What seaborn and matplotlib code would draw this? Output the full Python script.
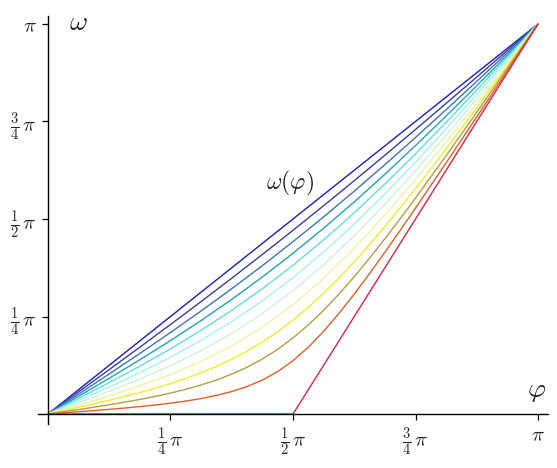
import numpy as np
import pandas as pd
import matplotlib
matplotlib.use("Agg")
import matplotlib.pyplot as plt
import seaborn as sns

# phi and omega values in units of pi
phi = [0, .0625, .125, .1875, .25, .3125, .375, .4375, .5,
       .5625, .625, .6875, .75, .8125, .875, .9375, 1]
# the strongly bent curves were read at more places
phi_fine = [0, .0625, .125, .15625, .1875, .21875, .25, .28125, .3125,
            .34375, .375, .40625, .4375, .46875, .5, .53125, .5625,
            .59375, .625, .65625, .6875, .71875, .75, .8125, .875, .9375, 1]

w00 = [0, .0625, .125, .1875, .25, .3125, .375, .4375, .5,
       .5625, .625, .6875, .75, .8125, .875, .9375, 1]
w01 = [0, .0569, .1139, .1714, .2295, .2884, .3482, .4091, .4710,
       .5341, .5982, .6634, .7295, .7964, .8639, .9319, 1]
w02 = [0, .0512, .1028, .1553, .2090, .2642, .3213, .3804, .4418,
       .5054, .5713, .6392, .7090, .7803, .8528, .9262, 1]
w03 = [0, .0456, .0917, .1391, .1882, .2397, .2939, .3513, .4121,
       .4763, .5439, .6147, .6882, .7641, .8417, .9206, 1]
w04 = [0, .0399, .0806, .1227, .1672, .2147, .2659, .3214, .3815,
       .4464, .5159, .5897, .6672, .7477, .8306, .9149, 1]
w05 = [0, .0342, .0694, .1062, .1458, .1891, .2371, .2904, .3498,
       .4154, .4871, .5641, .6458, .7312, .8194, .9092, 1]
w06 = [0, .0286, .0581, .0895, .1240, .1627, .2069, .2578, .3163,
       .3828, .4569, .5377, .6240, .7145, .8081, .9036, 1]
w07 = [0, .0229, .0467, .0725, .1014, .1350, .1749, .2230, .2804,
       .3480, .4249, .5100, .6014, .6975, .7967, .8979, 1]
w08 = [0, .0172, .0352, .0449, .0551, .0661, .0781, .0912, .1058,
       .1221, .1404, .1612, .1847, .2112, .2408, .2737, .3097, .3487,
       .3904, .4346, .4808, .5287, .5781, .6801, .7852, .8922, 1]
w09 = [0, .0115, .0236, .0302, .0373, .0450, .0536, .0633, .0744,
       .0872, .1022, .1200, .1410, .1659, .1950, .2284, .2660, .3075,
       .3522, .3997, .4494, .5008, .5536, .6623, .7736, .8865, 1]
w10 = [0, .0057, .0119, .0153, .0190, .0231, .0278, .0332, .0397,
       .0477, .0576, .0704, .0871, .1088, .1368, .1713, .2121, .2579,
       .3076, .3602, .4147, .4707, .5278, .6440, .7619, .8807, 1]
w11 = [0, 0, 0, 0, 0, 0, 0, 0, 0,
       .125, .25, .375, .5, .625, .75, .875, 1]

curves = [w00, w01, w02, w03, w04, w05, w06, w07, w08, w09, w10, w11]
colors = ['#1a1acc', '#3b3b9c', '#3f72b8', '#1fa3b8', '#5fdede', '#a8f0f0',
          '#cdf2d8', '#eef2a8', '#f0ec28', '#b0a040', '#e06028', '#e0204a']

tick_vals = [.25, .5, .75, 1]
tick_labels = [r'$\frac{1}{4}\,\pi$', r'$\frac{1}{2}\,\pi$', r'$\frac{3}{4}\,\pi$', r'$\pi$']

rows = []
for k, w in enumerate(curves):
    xs = phi_fine if len(w) == len(phi_fine) else phi
    for p, o in zip(xs, w):
        rows.append({'phi': p, 'omega': o, 'curve': k})
df = pd.DataFrame(rows)

sns.set_style('white')
plt.rcParams['mathtext.fontset'] = 'cm'
plt.rcParams['font.family'] = ['DejaVu Sans']

fig = plt.figure(figsize=(5.57, 4.68), dpi=100)
ax = fig.add_axes([38 / 557, 44 / 468, 510 / 557, 408 / 468])

sns.lineplot(data=df, x='phi', y='omega', hue='curve', palette=colors,
             legend=False, errorbar=None, linewidth=1.0, ax=ax)

ax.set_xlim(-0.0204, 1.0204)
ax.set_ylim(-0.0256, 1.0204)
ax.spines['left'].set_position(('data', 0))
ax.spines['bottom'].set_position(('data', 0))
ax.spines['top'].set_visible(False)
ax.spines['right'].set_visible(False)
for s in ['left', 'bottom']:
    ax.spines[s].set_color('black')
    ax.spines[s].set_linewidth(1.0)

ax.set_xticks(tick_vals)
ax.set_xticklabels(tick_labels)
ax.set_yticks(tick_vals)
ax.set_yticklabels(tick_labels)
ax.tick_params(direction='out', length=4, width=0.9, color='black',
               labelsize=15, pad=4, bottom=True, left=True)
ax.set_xlabel('')
ax.set_ylabel('')

ax.text(0.061, 1.005, r'$\omega$', fontsize=20, ha='center', va='center')
ax.text(0.998, 0.0615, r'$\varphi$', fontsize=20, ha='center', va='center')
ax.text(0.494, 0.592, r'$\omega(\varphi)$', fontsize=17, ha='center', va='center')

fig.savefig('out.png', dpi=100)
